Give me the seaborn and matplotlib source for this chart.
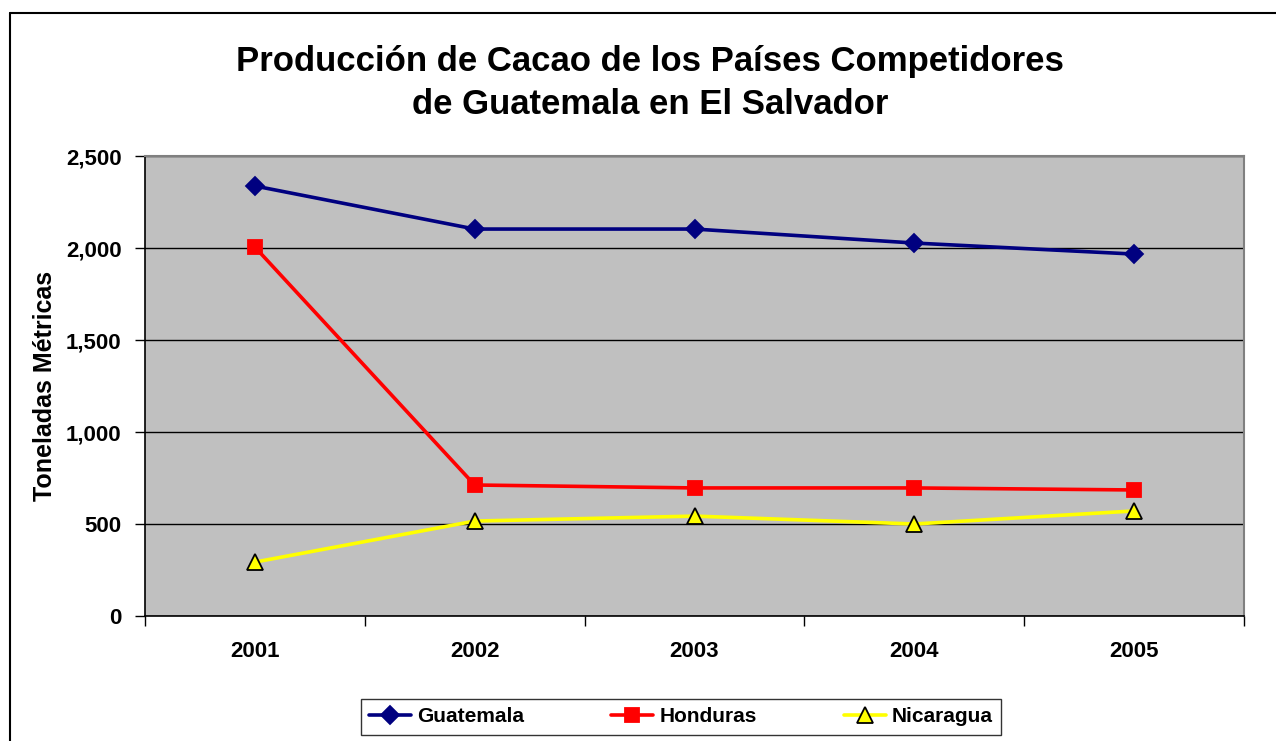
import seaborn as sns
import matplotlib.pyplot as plt
import pandas as pd
import numpy as np
from matplotlib.lines import Line2D

years = ['2001', '2002', '2003', '2004', '2005']
guatemala = [2337, 2103, 2103, 2027, 1967]
honduras = [2005, 712, 696, 696, 685]
nicaragua = [293, 516, 543, 500, 571]

sns.set_style('white')
plt.rcParams['font.family'] = ['Liberation Sans', 'DejaVu Sans']
plt.rcParams['text.color'] = 'black'
plt.rcParams['axes.labelcolor'] = 'black'
plt.rcParams['xtick.color'] = 'black'
plt.rcParams['ytick.color'] = 'black'

fig = plt.figure(figsize=(12.76, 7.41), dpi=100)
ax = fig.add_axes([145 / 1276, 1 - 616 / 741, 1099 / 1276, 460 / 741])
ax.set_facecolor('#C0C0C0')

pos = np.arange(len(years))
series = [
    ('Guatemala', guatemala, '#000080', 'D', '#000080', 9),
    ('Honduras', honduras, '#FF0000', 's', '#FF0000', 10),
    ('Nicaragua', nicaragua, '#FFFF00', '^', '#000000', 11),
]
handles = []
for name, vals, col, mk, ec, ms in series:
    df = pd.DataFrame({'pos': pos, 'val': vals})
    sns.lineplot(data=df, x='pos', y='val', ax=ax, color=col, marker=mk,
                 markersize=ms, markeredgecolor=ec, markeredgewidth=1.3,
                 linewidth=2.6, zorder=3)
    handles.append(Line2D([], [], color=col, marker=mk, markersize=ms,
                          markeredgecolor=ec, markeredgewidth=1.3, linewidth=2.6))

ax.set_xlim(-0.5, 4.5)
ax.set_ylim(0, 2500)
ax.set_yticks(range(0, 2501, 500))
ax.set_yticklabels([f'{v:,}' for v in range(0, 2501, 500)], fontsize=16, fontweight='bold')
ax.yaxis.grid(True, color='black', linewidth=1)
ax.set_axisbelow(True)

ax.set_xticks(np.arange(-0.5, 4.6, 1))
ax.set_xticklabels([])
ax.set_xticks(pos, minor=True)
ax.set_xticklabels(years, minor=True, fontsize=16, fontweight='bold')
ax.tick_params(axis='x', which='major', direction='out', length=7, width=1, color='black', bottom=True)
ax.tick_params(axis='x', which='minor', length=0, pad=18)
ax.tick_params(axis='y', direction='out', length=7, width=1, color='black', left=True, pad=10)

for s in ['left', 'bottom']:
    ax.spines[s].set_color('black')
    ax.spines[s].set_linewidth(1.2)
for s in ['top', 'right']:
    ax.spines[s].set_color('#808080')
    ax.spines[s].set_linewidth(1.5)

ax.set_xlabel('')
ax.set_ylabel('Toneladas Métricas', fontsize=18, fontweight='bold', labelpad=6)

fig.text(650 / 1276, 1 - 83 / 741, 'Producción de Cacao de los Países Competidores\nde Guatemala en El Salvador',
         ha='center', va='center', fontsize=25, fontweight='bold', linespacing=1.4)

leg = fig.legend(handles, ['Guatemala', 'Honduras', 'Nicaragua'], loc='center',
                 bbox_to_anchor=(681 / 1276, 1 - 717 / 741), ncol=3, frameon=True,
                 fancybox=False, edgecolor='black', fontsize=15, handlelength=2.0,
                 columnspacing=4.2, handletextpad=0.3, borderpad=0.4,
                 borderaxespad=0)
leg.get_frame().set_linewidth(1)
for t in leg.get_texts():
    t.set_fontweight('bold')

fig.add_artist(Line2D([10 / 1276, 10 / 1276], [0, 1 - 13 / 741], color='black', linewidth=1.5, transform=fig.transFigure))
fig.add_artist(Line2D([10 / 1276, 1], [1 - 13 / 741, 1 - 13 / 741], color='black', linewidth=1.5, transform=fig.transFigure))

fig.savefig('out.png', dpi=100)
